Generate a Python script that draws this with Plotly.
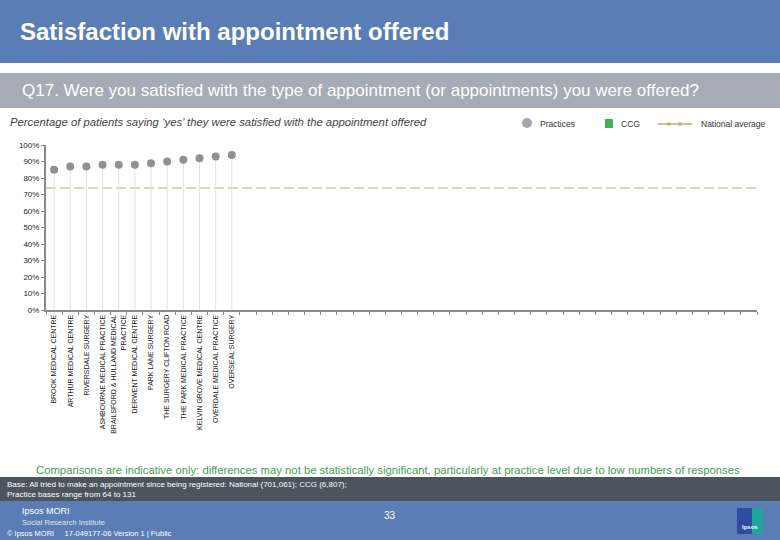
import plotly.graph_objects as go

# ---- data ----
practices = [
    "BROOK MEDICAL CENTRE",
    "ARTHUR MEDICAL CENTRE",
    "RIVERSDALE SURGERY",
    "ASHBOURNE MEDICAL PRACTICE",
    "BRAILSFORD & HULLAND MEDICAL<br>PRACTICE",
    "DERWENT MEDICAL CENTRE",
    "PARK LANE SURGERY",
    "THE SURGERY CLIFTON ROAD",
    "THE PARK MEDICAL PRACTICE",
    "KELVIN GROVE MEDICAL CENTRE",
    "OVERDALE MEDICAL PRACTICE",
    "OVERSEAL SURGERY",
]
practice_values = [85, 87, 87, 88, 88, 88, 89, 90, 91, 92, 93, 94]
national_average = 74
n_slots = 44  # chart template slots (empty ones unused)
y_ticks = [0, 10, 20, 30, 40, 50, 60, 70, 80, 90, 100]
y_tick_labels = [f"{v}%" for v in y_ticks]

W, H = 780, 540
L, R, T, B = 46, 23, 145, 230
PW, PH = W - L - R, H - T - B

def px(x):
    return (x - L) / PW

def py(y):
    return (H - B - y) / PH

HEADER_BLUE = "#5a7db5"
GREY_BAND = "#a5acb6"
DARK_BAND = "#4c545e"
FONT = "Liberation Sans, Arial, sans-serif"

x_idx = list(range(len(practices)))

fig = go.Figure()

# national average dashed line across all slots
fig.add_trace(go.Scatter(
    x=[-0.5, n_slots - 0.5], y=[national_average, national_average],
    mode="lines", line=dict(color="#ddd8b0", width=2, dash="10px,4px"),
    hoverinfo="skip", showlegend=False,
))

# practices: drop lines + dots
fig.add_trace(go.Scatter(
    x=x_idx, y=practice_values, mode="markers",
    marker=dict(color="#8e9196", size=8),
    error_y=dict(type="data", symmetric=False, array=[0] * len(practice_values),
                 arrayminus=practice_values, color="#e2e2e2", thickness=1, width=0),
    showlegend=False,
))

fig.update_xaxes(
    range=[-0.5, n_slots - 0.5],
    tickmode="array", tickvals=x_idx, ticktext=practices,
    tickangle=-90, ticks="", showgrid=False, zeroline=False,
    showline=True, linecolor="#8a8a8a", linewidth=2,
    tickfont=dict(family=FONT, size=7, color="#222"),
    minor=dict(tickmode="linear", tick0=-0.5, dtick=1, ticks="outside",
               ticklen=3, tickcolor="#8a8a8a", tickwidth=1, showgrid=False),
)
fig.update_yaxes(
    range=[0, 100], tickmode="array", tickvals=y_ticks, ticktext=y_tick_labels,
    ticks="outside", ticklen=3, tickcolor="#8a8a8a",
    showgrid=False, zeroline=False, showline=True, linecolor="#8a8a8a", linewidth=2,
    tickfont=dict(family=FONT, size=8, color="#222"),
)

shapes = [
    dict(type="rect", xref="paper", yref="paper", x0=px(0), x1=px(W), y0=py(0), y1=py(63),
         fillcolor=HEADER_BLUE, line_width=0, layer="below"),
    dict(type="rect", xref="paper", yref="paper", x0=px(0), x1=px(W), y0=py(73), y1=py(108),
         fillcolor=GREY_BAND, line_width=0, layer="below"),
    dict(type="rect", xref="paper", yref="paper", x0=px(0), x1=px(W), y0=py(477), y1=py(501),
         fillcolor=DARK_BAND, line_width=0, layer="below"),
    dict(type="rect", xref="paper", yref="paper", x0=px(0), x1=px(W), y0=py(501), y1=py(540),
         fillcolor=HEADER_BLUE, line_width=0, layer="below"),
    # legend swatches
    dict(type="circle", xref="paper", yref="paper", x0=px(522), x1=px(532), y0=py(118), y1=py(128),
         fillcolor="#a3a6ab", line_width=0),
    dict(type="rect", xref="paper", yref="paper", x0=px(605), x1=px(613), y0=py(119), y1=py(128),
         fillcolor="#3fb25a", line_width=0),
    dict(type="line", xref="paper", yref="paper", x0=px(658), x1=px(692), y0=py(124), y1=py(124),
         line=dict(color="#c9c38e", width=2)),
    dict(type="rect", xref="paper", yref="paper", x0=px(667), x1=px(671), y0=py(122.5), y1=py(125.5),
         fillcolor="#b8b27a", line_width=0),
    dict(type="rect", xref="paper", yref="paper", x0=px(678), x1=px(682), y0=py(122.5), y1=py(125.5),
         fillcolor="#b8b27a", line_width=0),
    # ipsos logo
    dict(type="rect", xref="paper", yref="paper", x0=px(737), x1=px(763), y0=py(508), y1=py(534),
         fillcolor="#2e4d9e", line_width=0),
    dict(type="rect", xref="paper", yref="paper", x0=px(752), x1=px(763), y0=py(508), y1=py(534),
         fillcolor="#1fa59a", line_width=0),
]

def ann(x, y, text, size, color, xanchor="left", yanchor="middle", **kw):
    return dict(xref="paper", yref="paper", x=px(x), y=py(y), text=text, showarrow=False,
                xanchor=xanchor, yanchor=yanchor,
                font=dict(family=FONT, size=size, color=color), **kw)

annotations = [
    ann(18, 31, "<b>Satisfaction with appointment offered</b>", 24, "white"),
    ann(20, 91, "Q17. Were you satisfied with the type of appointment (or appointments) you were offered?", 17, "white"),
    ann(8, 122, "<i>Percentage of patients saying \u2018yes\u2019 they were satisfied with the appointment offered</i>", 11.3, "#444"),
    ann(538, 124, "Practices", 8.5, "#333"),
    ann(619, 124, "CCG", 8.5, "#333"),
    ann(699, 124, "National average", 8.5, "#333"),
    ann(388, 470, "Comparisons are indicative only: differences may not be statistically significant, particularly at practice level due to low numbers of responses",
        11.3, "#3fa34d", xanchor="center"),
    ann(5, 489, "Base: All tried to make an appointment since being registered: National (701,061); CCG (6,807);<br>Practice bases range from 64 to 131",
        8, "white", align="left"),
    ann(20, 511, "Ipsos MORI", 9, "white"),
    ann(20, 522, "Social Research Institute", 7.5, "#dfe6f2"),
    ann(5, 533, "\u00a9 Ipsos MORI     17-049177-06 Version 1 | Public", 7.5, "white"),
    ann(390, 515, "33", 10, "white", xanchor="center"),
    ann(750, 527, "<b>Ipsos</b>", 6, "white", xanchor="center"),
]

fig.update_layout(
    width=W, height=H, autosize=False,
    margin=dict(l=L, r=R, t=T, b=B, pad=0),
    paper_bgcolor="white", plot_bgcolor="white",
    showlegend=False, shapes=shapes, annotations=annotations,
    font=dict(family=FONT),
)

fig.write_html("out.html", config={"displayModeBar": False},
               post_script="document.body.style.margin='0';document.body.style.padding='0';")
